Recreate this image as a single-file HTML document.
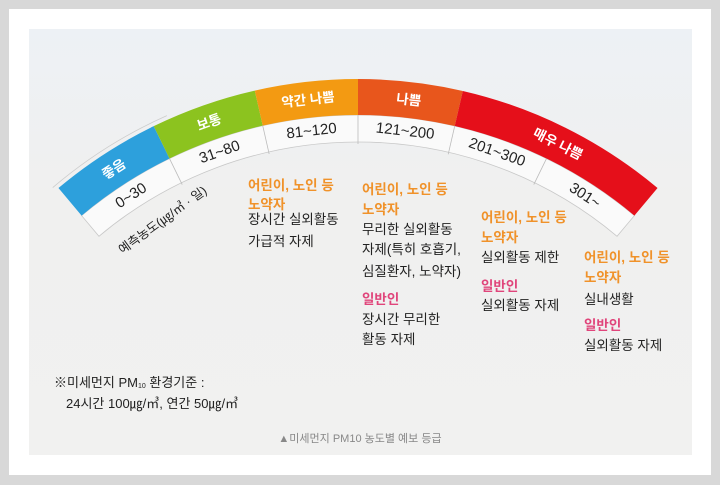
<!DOCTYPE html>
<html><head><meta charset="utf-8">
<style>
html,body{margin:0;padding:0;}
body{width:720px;height:485px;background:#d8d8d8;position:relative;overflow:hidden;font-family:"Liberation Sans","Noto Sans CJK KR",sans-serif;}
#frame{position:absolute;left:9px;top:9px;width:702px;height:466px;background:#fff;}
#panel{position:absolute;left:29px;top:29px;width:663px;height:426px;background:linear-gradient(#edf1f5,#f0f0ef 40%,#f1f1f0);}
svg{position:absolute;left:0;top:0;}
text{font-family:"Liberation Sans","Noto Sans CJK KR",sans-serif;}
</style></head><body>
<div id="frame"></div>
<div id="panel"></div>
<svg id="chart" width="720" height="485">
<g id="arc"></g>
<g font-size="13.5">
<g>
<text x="248" y="190" fill="#f0922a" font-weight="bold">어린이, 노인 등</text>
<text x="248" y="209" fill="#f0922a" font-weight="bold">노약자</text>
<text x="248" y="224" fill="#222">장시간 실외활동</text>
<text x="248" y="246" fill="#222">가급적 자제</text>
</g>
<g>
<text x="362" y="194" fill="#f0922a" font-weight="bold">어린이, 노인 등</text>
<text x="362" y="214" fill="#f0922a" font-weight="bold">노약자</text>
<text x="362" y="234" fill="#222">무리한 실외활동</text>
<text x="362" y="254" fill="#222">자제(특히 호흡기,</text>
<text x="362" y="276" fill="#222">심질환자, 노약자)</text>
<text x="362" y="304" fill="#e0457b" font-weight="bold">일반인</text>
<text x="362" y="324" fill="#222">장시간 무리한</text>
<text x="362" y="344" fill="#222">활동 자제</text>
</g>
<g>
<text x="481" y="222" fill="#f0922a" font-weight="bold">어린이, 노인 등</text>
<text x="481" y="242" fill="#f0922a" font-weight="bold">노약자</text>
<text x="481" y="262" fill="#222">실외활동 제한</text>
<text x="481" y="291" fill="#e0457b" font-weight="bold">일반인</text>
<text x="481" y="310" fill="#222">실외활동 자제</text>
</g>
<g>
<text x="584" y="262" fill="#f0922a" font-weight="bold">어린이, 노인 등</text>
<text x="584" y="282" fill="#f0922a" font-weight="bold">노약자</text>
<text x="584" y="304" fill="#222">실내생활</text>
<text x="584" y="330" fill="#e0457b" font-weight="bold">일반인</text>
<text x="584" y="350" fill="#222">실외활동 자제</text>
</g>
</g>
<text x="54" y="387" font-size="13" fill="#222">※미세먼지 PM<tspan font-size="7" dy="1">10</tspan><tspan dy="-1"> 환경기준 :</tspan></text>
<text x="66" y="408" font-size="13" fill="#222">24시간 100㎍/㎥, 연간 50㎍/㎥</text>
<text x="360" y="442" font-size="11" fill="#888" text-anchor="middle">▲미세먼지 PM10 농도별 예보 등급</text>
</svg>
<script>
const categories=["좋음","보통","약간 나쁨","나쁨","매우 나쁨"];
const ranges=["0~30","31~80","81~120","121~200","201~300","301~"];
const boundaryAngles=[-40,-26,-12.8,0,13,26,40];
const colors=["#2da0dc","#8cc31f","#f39a12","#e8561c","#e50f1a"];
const catSpans=[[0,1],[1,2],[2,3],[3,4],[4,6]];
const CX=358,CY=545,R0=466,R1=430,R2=403;
const NS="http://www.w3.org/2000/svg";
const g=document.getElementById('arc');
function pt(r,a){const t=a*Math.PI/180;return [CX+r*Math.sin(t),CY-r*Math.cos(t)];}
function ring(ro,ri,a0,a1){const p1=pt(ro,a0),p2=pt(ro,a1),p3=pt(ri,a1),p4=pt(ri,a0);
return `M${p1}A${ro},${ro} 0 0 1 ${p2}L${p3}A${ri},${ri} 0 0 0 ${p4}Z`;}
const w=document.createElementNS(NS,'path');
w.setAttribute('d',ring(R1,R2,boundaryAngles[0],boundaryAngles[6]));
w.setAttribute('fill','#fafafa');w.setAttribute('stroke','#c8c8c8');w.setAttribute('stroke-width','0.8');


g.appendChild(w);
const guide=document.createElementNS(NS,'path');
const gp0=pt(R0+4,-40.5),gp1=pt(R0+4,-24);
guide.setAttribute('d',`M${gp0}A${R0+4},${R0+4} 0 0 1 ${gp1}`);
guide.setAttribute('fill','none');guide.setAttribute('stroke','#ccc');guide.setAttribute('stroke-width','0.8');


g.appendChild(guide);
categories.forEach((c,i)=>{
 const a0=boundaryAngles[catSpans[i][0]],a1=boundaryAngles[catSpans[i][1]];
 const p=document.createElementNS(NS,'path');
 p.setAttribute('d',ring(R0,R1,a0,a1));p.setAttribute('fill',colors[i]);
 
 
 g.appendChild(p);
 const am=(a0+a1)/2,q=pt((R0+R1)/2,am);
 const t=document.createElementNS(NS,'text');
 t.setAttribute('x',q[0]);t.setAttribute('y',q[1]);
 t.setAttribute('transform',`rotate(${am} ${q[0]} ${q[1]})`);
 t.setAttribute('text-anchor','middle');t.setAttribute('dominant-baseline','central');
 t.setAttribute('fill','#fff');t.setAttribute('font-size','13.5');t.setAttribute('font-weight','bold');
 t.textContent=c;
 
 
 g.appendChild(t);
});
boundaryAngles.forEach((a,i)=>{
 if(i==0||i==6)return;
 const p1=pt(R1,a),p2=pt(R2-2,a);
 const l=document.createElementNS(NS,'line');
 l.setAttribute('x1',p1[0]);l.setAttribute('y1',p1[1]);l.setAttribute('x2',p2[0]);l.setAttribute('y2',p2[1]);
 l.setAttribute('stroke','#bbb');l.setAttribute('stroke-width','0.8');
 
 
 g.appendChild(l);
});
ranges.forEach((r,i)=>{
 const am=(boundaryAngles[i]+boundaryAngles[i+1])/2,q=pt((R1+R2)/2,am);
 const t=document.createElementNS(NS,'text');
 t.setAttribute('x',q[0]);t.setAttribute('y',q[1]);
 t.setAttribute('transform',`rotate(${am} ${q[0]} ${q[1]})`);
 t.setAttribute('text-anchor','middle');t.setAttribute('dominant-baseline','central');
 t.setAttribute('fill','#222');t.setAttribute('font-size','15');
 t.textContent=r;
 
 
 g.appendChild(t);
});
const uq=pt(R2-24,-31);
const u=document.createElementNS(NS,'text');
u.setAttribute('x',uq[0]);u.setAttribute('y',uq[1]);
u.setAttribute('transform',`rotate(-36 ${uq[0]} ${uq[1]})`);
u.setAttribute('text-anchor','middle');u.setAttribute('dominant-baseline','central');
u.setAttribute('fill','#222');u.setAttribute('font-size','12.5');
u.textContent='예측농도(㎍/㎥ · 일)';


g.appendChild(u);
</script>
</body></html>
